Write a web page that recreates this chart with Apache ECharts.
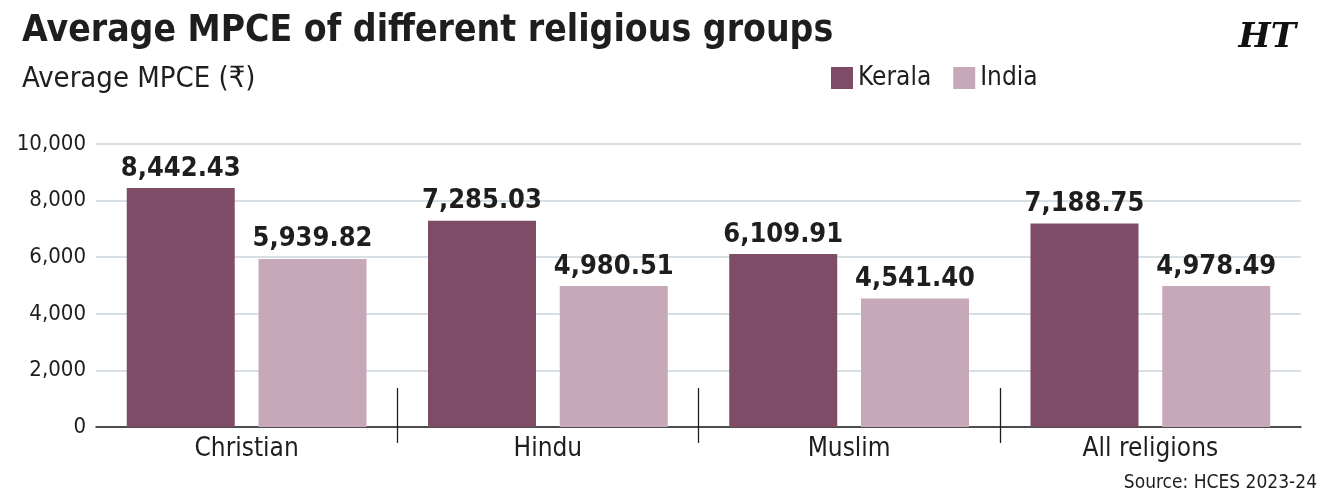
<!DOCTYPE html>
<html>
<head>
<meta charset="utf-8">
<script src="https://cdn.jsdelivr.net/npm/echarts@6/dist/echarts.min.js"></script>
<style>
  html, body { margin: 0; padding: 0; background: #fff; }
  #chart { width: 1327px; height: 500px; }
</style>
</head>
<body>
<div id="chart"></div>
<script>
// data
var categories = ["Christian", "Hindu", "Muslim", "All religions"];
var keralaValues = [8442.43, 7285.03, 6109.91, 7188.75];
var indiaValues = [5939.82, 4980.51, 4541.40, 4978.49];
var seriesNames = ["Kerala", "India"];
var yTicks = [0, 2000, 4000, 6000, 8000, 10000];

var FONT = '"Liberation Sans Narrow", "DejaVu Sans Condensed", "Roboto", sans-serif';
var fmt = function (v, d) {
  return Number(v).toLocaleString("en-US", { minimumFractionDigits: d, maximumFractionDigits: d });
};

var chart = echarts.init(document.getElementById("chart"));

var labelStyle = {
  show: true,
  position: "top",
  distance: 6,
  fontFamily: FONT,
  fontWeight: "bold",
  fontSize: 27,
  color: "#1e1e1e",
  formatter: function (p) { return fmt(p.value, 2); }
};

chart.setOption({
  animation: false,
  textStyle: { fontFamily: FONT },
  title: [
    {
      text: "Average MPCE of different religious groups",
      left: 17, top: 8,
      textStyle: { fontFamily: FONT, fontWeight: "bold", fontSize: 37, color: "#1e1e1e" }
    },
    {
      text: "Average MPCE (₹)",
      left: 17, top: 60,
      textStyle: { fontFamily: FONT, fontWeight: "normal", fontSize: 29, color: "#1e1e1e" }
    },
    {
      text: "HT",
      right: 26, top: 16,
      textStyle: { fontFamily: '"DejaVu Serif", serif', fontWeight: "bold", fontStyle: "italic", fontSize: 34, color: "#111" }
    },
    {
      text: "Source: HCES 2023-24",
      right: 5, top: 469,
      textStyle: { fontFamily: FONT, fontWeight: "normal", fontSize: 19, color: "#1e1e1e" }
    }
  ],
  legend: {
    left: 826, top: 60,
    icon: "rect",
    itemWidth: 22, itemHeight: 22,
    itemGap: 22,
    data: seriesNames,
    textStyle: { fontFamily: FONT, fontSize: 26, color: "#1e1e1e" }
  },
  grid: { left: 96, right: 26, top: 144, bottom: 73 },
  xAxis: [
    {
      type: "category",
      data: categories,
      axisLine: { lineStyle: { color: "#1e1e1e", width: 1.5 } },
      axisTick: { show: false },
      axisLabel: { fontFamily: FONT, fontSize: 26, color: "#1e1e1e", margin: 9 }
    },
    {
      // separators between groups
      type: "value",
      position: "bottom",
      offset: 16,
      min: 0, max: categories.length,
      axisLine: { show: false },
      axisLabel: { show: false },
      splitLine: { show: false },
      axisTick: {
        show: true, inside: true, length: 55,
        customValues: [1, 2, 3],
        lineStyle: { color: "#1e1e1e", width: 1.3 }
      }
    }
  ],
  yAxis: {
    type: "value",
    min: 0, max: 10000, interval: 2000,
    axisLine: { show: false },
    axisTick: { show: false },
    splitLine: { lineStyle: { color: "#c9d4da", width: 1.5 } },
    axisLabel: {
      fontFamily: FONT, fontSize: 22, color: "#1e1e1e", margin: 10,
      customValues: yTicks,
      formatter: function (v) { return fmt(v, 0); }
    }
  },
  series: [
    {
      name: seriesNames[0],
      type: "bar",
      xAxisIndex: 0,
      data: keralaValues,
      barWidth: 108,
      barGap: "22%",
      itemStyle: { color: "#7e4c67" },
      label: labelStyle
    },
    {
      name: seriesNames[1],
      type: "bar",
      xAxisIndex: 0,
      data: indiaValues,
      barWidth: 108,
      barGap: "22%",
      itemStyle: { color: "#c6a8b8" },
      label: labelStyle
    }
  ]
});

window.onresize = function () { chart.resize(); };
</script>
</body>
</html>
